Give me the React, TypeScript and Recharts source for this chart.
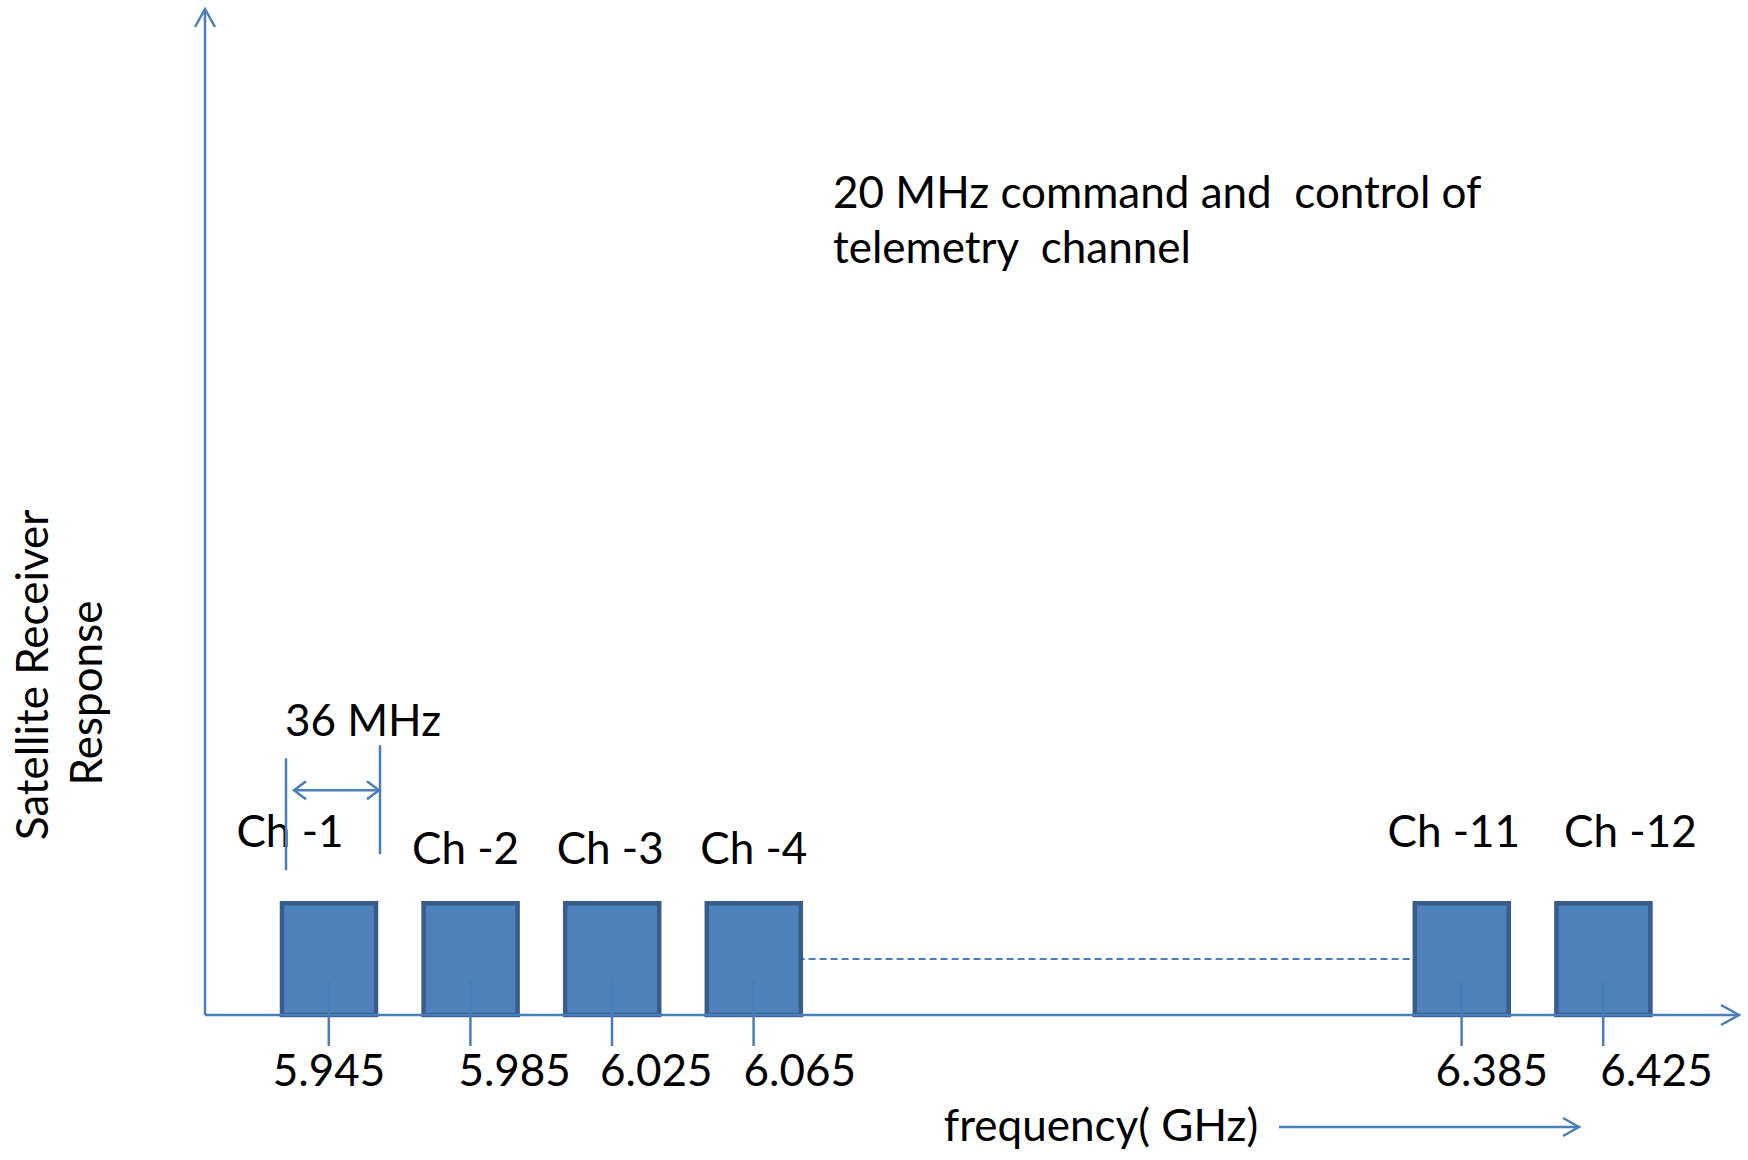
import React from 'react';
import { ComposedChart, Bar, Line, XAxis, YAxis, LabelList, Label } from 'recharts';

// ---- data ----
const slots = ['Ch -1', 'Ch -2', 'Ch -3', 'Ch -4', 'gap 1', 'gap 2', 'gap 3', 'gap 4', 'Ch -11', 'Ch -12'];
const channelNames = ['Ch -1', 'Ch -2', 'Ch -3', 'Ch -4', '', '', '', '', 'Ch -11', 'Ch -12'];
const centreFrequencies = ['5.945', '5.985', '6.025', '6.065', '', '', '', '', '6.385', '6.425'];
const receiverResponse = [1, 1, 1, 1, null, null, null, null, 1, 1];
const omittedChannels = [null, null, null, 0.5, 0.5, 0.5, 0.5, 0.5, 0.5, null];

const annotationLines = ['20 MHz command and  control of', 'telemetry  channel'];
const yTitleLines = ['Satellite Receiver', 'Response'];
const xTitle = 'frequency( GHz)';
const bandwidthLabel = '36 MHz';

const data = slots.map((slot, i) => ({
  slot,
  channel: channelNames[i],
  freq: centreFrequencies[i],
  response: receiverResponse[i],
  omitted: omittedChannels[i],
}));

// ---- style ----
const AXIS = '#4A7EBB';
const FILL = '#4F81BD';
const EDGE = '#385D8A';
const FONT = "Lato, 'Open Sans', sans-serif";
const FS = 44;

const channelLabelShift: Record<string, [number, number]> = {
  'Ch -1': [-39, -56],
  'Ch -2': [-5, -39],
  'Ch -3': [-2, -39],
  'Ch -4': [0, -39],
  'Ch -11': [-8, -56],
  'Ch -12': [27, -56],
};
const freqLabelShift: Record<string, number> = {
  '5.945': -56,
  '5.985': -12,
  '6.025': -12,
  '6.065': -10,
  '6.385': -26,
  '6.425': -3,
};

const txt = { fontFamily: FONT, fontSize: FS, fill: '#000', whiteSpace: 'pre' as const };

const ChannelLabel = (props: any) => {
  const { x, y, width, value } = props;
  if (!value) return null;
  const bx = Number(x);
  const by = Number(y);
  const bw = Number(width);
  const [dx, dy] = channelLabelShift[value] || [0, -39];
  const cx = bx + bw / 2;
  const lx = bx + 4;
  const rx = bx + bw + 4;
  const ay = by - 113;
  return (
    <g>
      <text x={cx + dx} y={by + dy} textAnchor="middle" style={txt}>{value}</text>
      {value === 'Ch -1' && (
        <g stroke={AXIS} strokeWidth={2.5} fill="none">
          <line x1={lx} y1={by - 145} x2={lx} y2={by - 33} />
          <line x1={rx} y1={by - 158} x2={rx} y2={by - 49} />
          <line x1={lx + 8} y1={ay} x2={rx - 1} y2={ay} />
          <polyline points={`${lx + 20},${ay - 9} ${lx + 8},${ay} ${lx + 20},${ay + 9}`} />
          <polyline points={`${rx - 13},${ay - 9} ${rx - 1},${ay} ${rx - 13},${ay + 9}`} />
          <text x={lx + 77} y={by - 167} textAnchor="middle" stroke="none" style={txt}>{bandwidthLabel}</text>
        </g>
      )}
    </g>
  );
};

const FreqTick = (props: any) => {
  const { x, y, payload } = props;
  const row = data.find((d) => d.slot === payload.value);
  if (!row || !row.freq) return <g />;
  const tx = Number(x);
  const ty = Number(y);
  return (
    <g>
      <line x1={tx} y1={ty - 34} x2={tx} y2={ty + 31} stroke={AXIS} strokeWidth={2.5} />
      <text x={tx + (freqLabelShift[row.freq] || 0)} y={ty + 71} textAnchor="start" style={txt}>{row.freq}</text>
    </g>
  );
};

const XAxisDecor = (props: any) => {
  const vb = props.viewBox || {};
  const x = Number(vb.x);
  const y = Number(vb.y);
  const w = Number(vb.width);
  const ex = x + w;
  const mid = x + w / 2;
  return (
    <g>
      <polyline points={`${ex - 18},${y - 10} ${ex},${y} ${ex - 18},${y + 10}`} fill="none" stroke={AXIS} strokeWidth={2.5} />
      <text x={mid + 129} y={y + 126} textAnchor="middle" style={txt}>{xTitle}</text>
      <line x1={mid + 307} y1={y + 112} x2={mid + 607} y2={y + 112} stroke={AXIS} strokeWidth={2.5} />
      <polyline points={`${mid + 591},${y + 103} ${mid + 607},${y + 112} ${mid + 591},${y + 121}`} fill="none" stroke={AXIS} strokeWidth={2.5} />
    </g>
  );
};

const YAxisDecor = (props: any) => {
  const vb = props.viewBox || {};
  const x = Number(vb.x) + Number(vb.width || 0);
  const y = Number(vb.y);
  const h = Number(vb.height);
  const mid = y + h / 2;
  return (
    <g>
      <polyline points={`${x - 10},${y + 18} ${x},${y} ${x + 10},${y + 18}`} fill="none" stroke={AXIS} strokeWidth={2.5} />
      <text transform={`translate(${x - 157},${mid + 163}) rotate(-90)`} textAnchor="middle" style={txt}>{yTitleLines[0]}</text>
      <text transform={`translate(${x - 103},${mid + 181}) rotate(-90)`} textAnchor="middle" style={txt}>{yTitleLines[1]}</text>
      <text x={x + 628} y={y + 199} style={txt}>{annotationLines[0]}</text>
      <text x={x + 628} y={y + 254} style={txt}>{annotationLines[1]}</text>
    </g>
  );
};

export default function App() {
  return (
    <div style={{ position: 'absolute', left: 0, top: 0, width: 1748, height: 1160, background: '#fff' }}>
      <ComposedChart
        width={1748}
        height={1160}
        data={data}
        margin={{ top: 9, right: 9, bottom: 144, left: 204 }}
      >
        <Line
          dataKey="omitted"
          stroke={AXIS}
          strokeWidth={2}
          strokeDasharray="7 4"
          dot={false}
          activeDot={false}
          isAnimationActive={false}
          zIndex={-10}
        />
        <Bar
          dataKey="response"
          barSize={94}
          fill={FILL}
          stroke={EDGE}
          strokeWidth={4.5}
          isAnimationActive={false}
        >
          <LabelList dataKey="channel" content={ChannelLabel} />
        </Bar>
        <XAxis
          dataKey="slot"
          type="category"
          height={1}
          interval={0}
          padding={{ left: 53, right: 65 }}
          axisLine={{ stroke: AXIS, strokeWidth: 2.5 }}
          tickLine={false}
          tickSize={0}
          tickMargin={0}
          tick={FreqTick}
        >
          <Label content={XAxisDecor} />
        </XAxis>
        <YAxis
          type="number"
          domain={[0, 9]}
          width={1}
          tick={false}
          tickLine={false}
          axisLine={{ stroke: AXIS, strokeWidth: 2.5 }}
        >
          <Label content={YAxisDecor} />
        </YAxis>
      </ComposedChart>
    </div>
  );
}
